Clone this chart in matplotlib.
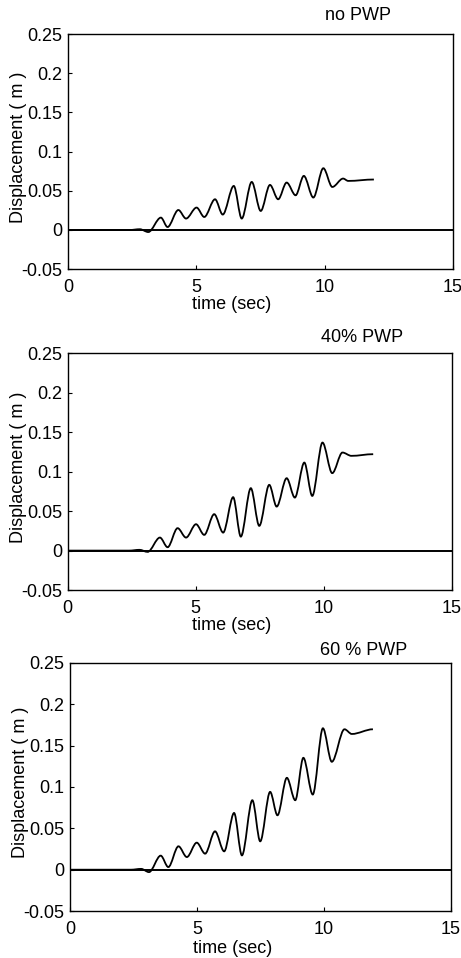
import matplotlib
matplotlib.use("Agg")
import matplotlib.pyplot as plt
from matplotlib.path import Path
from matplotlib.patches import PathPatch

plt.rcParams['font.family'] = ['Liberation Sans', 'DejaVu Sans']
plt.rcParams['font.size'] = 13

# peaks / troughs (time in s, displacement in m)
t_nopwp = [0, 2.4, 2.8, 3.13, 3.62, 3.88, 4.30, 4.60, 5.01, 5.31, 5.73, 6.03, 6.46, 6.77,
           7.16, 7.51, 7.87, 8.19, 8.52, 8.87, 9.19, 9.56, 9.95, 10.30, 10.72, 10.92, 11.92]
d_nopwp = [0, 0, 0.001, -0.0026, 0.0158, 0.0038, 0.0255, 0.0146, 0.0286, 0.0166, 0.0392,
           0.0197, 0.0562, 0.0146, 0.0613, 0.0243, 0.0575, 0.0392, 0.0605, 0.0443, 0.0690,
           0.0414, 0.0788, 0.0549, 0.0656, 0.0626, 0.0644]

t_40 = [0, 2.4, 2.8, 3.12, 3.60, 3.90, 4.29, 4.62, 5.01, 5.33, 5.72, 6.07, 6.46, 6.76,
        7.15, 7.48, 7.87, 8.16, 8.55, 8.87, 9.24, 9.55, 9.95, 10.33, 10.73, 11.08, 11.93]
d_40 = [0, 0, 0.001, -0.0016, 0.0165, 0.0043, 0.0284, 0.0165, 0.0334, 0.0199, 0.0461,
        0.0228, 0.0676, 0.0177, 0.0790, 0.0313, 0.0832, 0.0557, 0.0916, 0.0671, 0.1114,
        0.0692, 0.1367, 0.0980, 0.1241, 0.1199, 0.1220]

t_60 = [0, 2.4, 2.8, 3.11, 3.57, 3.87, 4.27, 4.60, 4.99, 5.32, 5.71, 6.07, 6.46, 6.77,
        7.18, 7.49, 7.88, 8.17, 8.54, 8.87, 9.19, 9.56, 9.96, 10.31, 10.81, 11.10, 11.93]
d_60 = [0, 0, 0.001, -0.0029, 0.0170, 0.0032, 0.0283, 0.0153, 0.0327, 0.0194, 0.0464,
        0.0222, 0.0686, 0.0173, 0.0840, 0.0343, 0.0941, 0.0658, 0.1111, 0.0840, 0.1353,
        0.0909, 0.1710, 0.1305, 0.1698, 0.1641, 0.1698]

titles = ['no PWP', '40% PWP', '60 % PWP']
xticks = [0, 5, 10, 15]
yticks = [-0.05, 0, 0.05, 0.1, 0.15, 0.2, 0.25]
ytick_labels = ['-0.05', '0', '0.05', '0.1', '0.15', '0.2', '0.25']


def smooth_path(t, d):
    # cubic bezier between extrema, flat tangent at each one
    verts = [(t[0], d[0])]
    codes = [Path.MOVETO]
    for i in range(1, len(t)):
        dt = t[i] - t[i - 1]
        verts += [(t[i - 1] + dt / 3, d[i - 1]), (t[i] - dt / 3, d[i]), (t[i], d[i])]
        codes += [Path.CURVE4] * 3
    return Path(verts, codes)


fig = plt.figure(figsize=(4.61, 9.58), dpi=100)

# left, bottom, width, height ; title x, title y
boxes = [[0.1475, 0.719, 0.835, 0.2455],
         [0.147, 0.384, 0.833, 0.2475],
         [0.152, 0.049, 0.826, 0.259]]
title_pos = [(0.753, 1.078), (0.766, 1.066), (0.77, 1.052)]
series = [(t_nopwp, d_nopwp), (t_40, d_40), (t_60, d_60)]

for box, (tx, ty), (t, d), title in zip(boxes, title_pos, series, titles):
    ax = fig.add_axes(box)
    ax.axhline(0, color='black', lw=1.4)
    ax.add_patch(PathPatch(smooth_path(t, d), fill=False, ec='black', lw=1.3))
    ax.set_xlim(0, 15)
    ax.set_ylim(-0.05, 0.25)
    ax.set_xticks(xticks)
    ax.set_yticks(yticks)
    ax.set_yticklabels(ytick_labels)
    ax.tick_params(direction='in', length=3, width=0.8, top=False, right=False)
    ax.tick_params(axis='x', pad=7)
    ax.tick_params(axis='y', pad=4)
    for sp in ax.spines.values():
        sp.set_linewidth(1.0)
    ax.set_xlabel('time (sec)')
    ax.xaxis.set_label_coords(0.426, -0.115)
    ax.xaxis.label.set_va('top')
    ax.set_ylabel('Displacement ( m )')
    ax.yaxis.set_label_coords(-0.107, 0.52)
    ax.text(tx, ty, title, transform=ax.transAxes, ha='center', va='center')

fig.savefig('out.png', dpi=100)
